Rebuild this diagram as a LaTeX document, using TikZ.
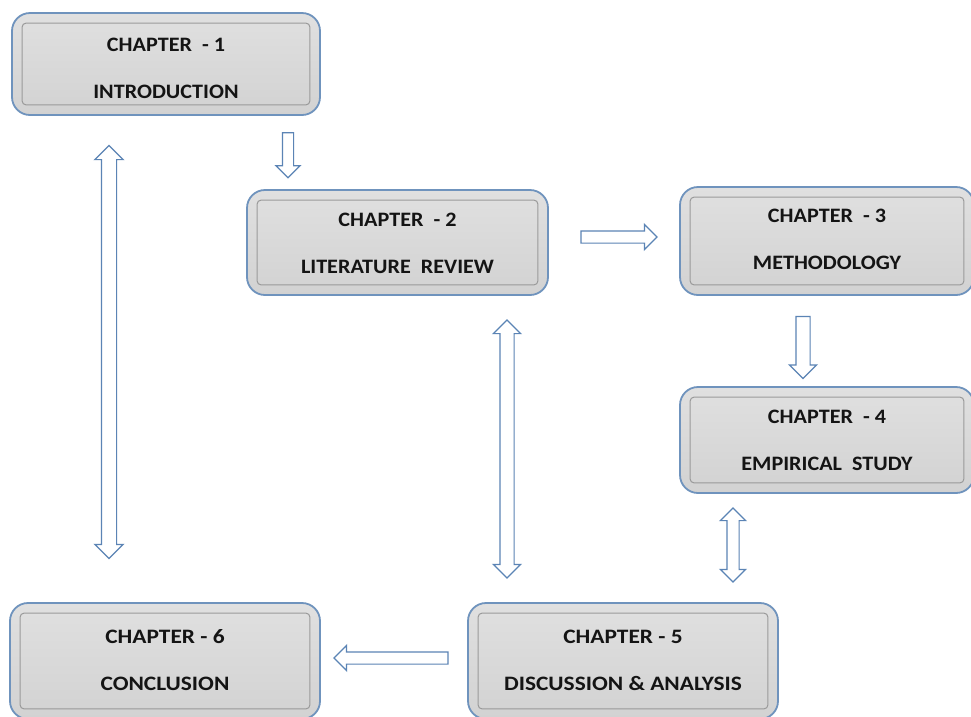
\documentclass[tikz,border=0pt]{standalone}
\usepackage{fontspec}
\setmainfont{Carlito}
\newfontfamily\boxfont[FakeStretch=1.08]{Carlito}
\newfontfamily\boxfontwide[FakeStretch=1.14]{Carlito}
\usetikzlibrary{shapes.arrows}
\definecolor{boxblue}{HTML}{6F93BD}
\definecolor{boxtop}{HTML}{E0E0E0}
\definecolor{boxbot}{HTML}{D2D2D2}
\definecolor{framegray}{HTML}{9A9A9A}
\definecolor{arrowblue}{HTML}{5B84B5}
\definecolor{txt}{HTML}{141414}
\tikzset{
  chbox/.style 2 args={draw=boxblue, line width=1.8pt, rounded corners=18pt,
    top color=boxtop, bottom color=boxbot,
    minimum width=#1, minimum height=#2, inner sep=0pt,
    align=center, text=txt, font=\boxfont\bfseries\fontsize{20.5}{24}\selectfont},
  widetext/.style={font=\boxfontwide\bfseries\fontsize{20.5}{24}\selectfont},
  innerframe/.style={draw=framegray, line width=1pt, rounded corners=4pt},
  sarrow/.style={single arrow, draw=arrowblue, fill=white, line width=1.2pt,
    inner xsep=0pt, inner ysep=5.5pt, minimum width=0pt,
    single arrow head extend=6.5pt, single arrow tip angle=90},
  darrow/.style={double arrow, draw=arrowblue, fill=white, line width=1.2pt,
    inner xsep=0pt, inner ysep=#1, minimum width=0pt,
    double arrow head extend=6.5pt, double arrow tip angle=90},
}
\newcommand{\frameof}[1]{\draw[innerframe] ([shift={(11pt,-11pt)}]#1.north west) rectangle ([shift={(-11pt,11pt)}]#1.south east);}
\begin{document}
\begin{tikzpicture}[x=1pt,y=-1pt]
\useasboundingbox[fill=white] (0,0) rectangle (971,716);
% boxes
\node[chbox={308pt}{102pt}] (c1) at (166,64) {\rule{0pt}{22pt}CHAPTER\ \ - 1\\[23pt]INTRODUCTION};
\node[chbox={301pt}{105pt}] (c2) at (397.5,242.5) {\rule{0pt}{16pt}CHAPTER\ \ - 2\\[23pt]LITERATURE\ \ REVIEW};
\node[chbox={294pt}{108pt}] (c3) at (827,241) {CHAPTER\ \ - 3\\[23pt]METHODOLOGY\rule[-4pt]{0pt}{4pt}};
\node[chbox={294pt}{106pt}] (c4) at (827,440) {CHAPTER\ \ - 4\\[23pt]EMPIRICAL\ \ STUDY};
\node[chbox={310pt}{116pt}, widetext] (c5) at (623,661) {CHAPTER - 5\\[23pt]DISCUSSION \& ANALYSIS\rule[-2pt]{0pt}{2pt}};
\node[chbox={310pt}{116pt}, widetext] (c6) at (165,661) {CHAPTER - 6\\[23pt]CONCLUSION\rule[-2pt]{0pt}{2pt}};
\frameof{c1}\frameof{c2}\frameof{c3}\frameof{c4}\frameof{c5}\frameof{c6}
% block arrows
\node[sarrow, minimum height=45pt, rotate=-90, inner ysep=5pt] (a12) at (288,152.5) {};
\node[sarrow, minimum height=76pt] (a23) at (616,237) {};
\node[sarrow, minimum height=62pt, rotate=-90, inner ysep=6.5pt] (a34) at (803,344) {};
\node[darrow=5.5pt, minimum height=74pt, rotate=90] (a45) at (733,545) {};
\node[darrow=6.5pt, minimum height=258pt, rotate=90] (a25) at (507,449) {};
\node[darrow=7pt, minimum height=413pt, rotate=90] (a16) at (109,352) {};
\node[sarrow, minimum height=114pt, rotate=180] (a56) at (394,658) {};
\end{tikzpicture}
\end{document}
